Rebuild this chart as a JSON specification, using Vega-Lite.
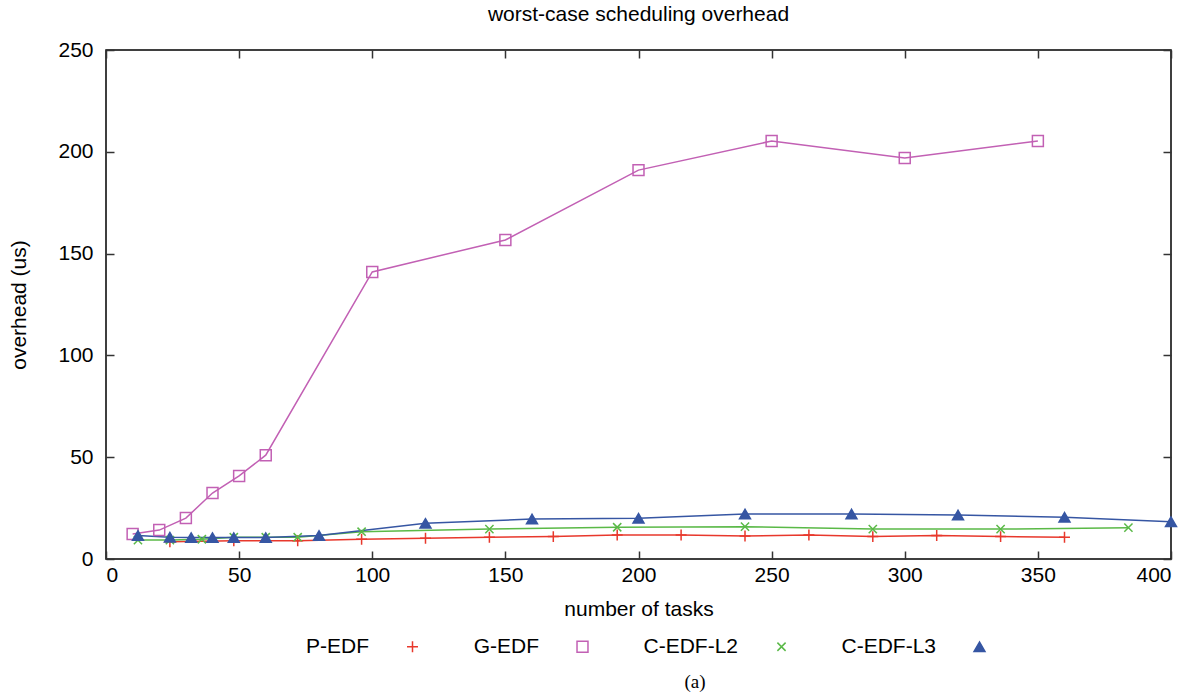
{
  "$schema": "https://vega.github.io/schema/vega-lite/v6.json",
  "width": 1065,
  "height": 509,
  "padding": {"left": 8, "top": 4, "right": 10, "bottom": 0},
  "background": "white",
  "title": {"text": "worst-case scheduling overhead", "font": "Liberation Sans", "fontSize": 21, "fontWeight": "normal", "color": "black", "offset": 14},
  "config": {
    "view": {"stroke": "black", "strokeWidth": 1.5},
    "axis": {"grid": false, "labelFont": "Liberation Sans", "labelFontSize": 21, "labelColor": "black", "titleFont": "Liberation Sans", "titleFontSize": 21, "titleFontWeight": "normal", "titleColor": "black", "domain": false, "tickColor": "#333", "tickWidth": 1.5, "tickSize": -8, "labelPadding": 10},
    "legend": {"labelFont": "Liberation Sans", "labelFontSize": 21, "labelColor": "black"}
  },
  "resolve": {"axis": {"x": "independent", "y": "independent"}},
  "data": {"values": [
    {"series": "P-EDF", "tasks": 24, "overhead": 8.5},
    {"series": "P-EDF", "tasks": 48, "overhead": 9.0},
    {"series": "P-EDF", "tasks": 72, "overhead": 9.0},
    {"series": "P-EDF", "tasks": 96, "overhead": 9.7},
    {"series": "P-EDF", "tasks": 120, "overhead": 10.2},
    {"series": "P-EDF", "tasks": 144, "overhead": 10.7},
    {"series": "P-EDF", "tasks": 168, "overhead": 11.0},
    {"series": "P-EDF", "tasks": 192, "overhead": 11.8},
    {"series": "P-EDF", "tasks": 216, "overhead": 11.8},
    {"series": "P-EDF", "tasks": 240, "overhead": 11.3},
    {"series": "P-EDF", "tasks": 264, "overhead": 11.8},
    {"series": "P-EDF", "tasks": 288, "overhead": 11.0},
    {"series": "P-EDF", "tasks": 312, "overhead": 11.5},
    {"series": "P-EDF", "tasks": 336, "overhead": 11.0},
    {"series": "P-EDF", "tasks": 360, "overhead": 10.7},
    {"series": "G-EDF", "tasks": 10, "overhead": 12.3},
    {"series": "G-EDF", "tasks": 20, "overhead": 14.2},
    {"series": "G-EDF", "tasks": 30, "overhead": 20.1},
    {"series": "G-EDF", "tasks": 40, "overhead": 32.4},
    {"series": "G-EDF", "tasks": 50, "overhead": 40.8},
    {"series": "G-EDF", "tasks": 60, "overhead": 51.0},
    {"series": "G-EDF", "tasks": 100, "overhead": 141.0},
    {"series": "G-EDF", "tasks": 150, "overhead": 156.7},
    {"series": "G-EDF", "tasks": 200, "overhead": 191.0},
    {"series": "G-EDF", "tasks": 250, "overhead": 205.3},
    {"series": "G-EDF", "tasks": 300, "overhead": 197.0},
    {"series": "G-EDF", "tasks": 350, "overhead": 205.3},
    {"series": "C-EDF-L2", "tasks": 12, "overhead": 9.3},
    {"series": "C-EDF-L2", "tasks": 24, "overhead": 9.3},
    {"series": "C-EDF-L2", "tasks": 36, "overhead": 9.7},
    {"series": "C-EDF-L2", "tasks": 48, "overhead": 10.7},
    {"series": "C-EDF-L2", "tasks": 60, "overhead": 10.7},
    {"series": "C-EDF-L2", "tasks": 72, "overhead": 10.7},
    {"series": "C-EDF-L2", "tasks": 96, "overhead": 13.4},
    {"series": "C-EDF-L2", "tasks": 144, "overhead": 14.7},
    {"series": "C-EDF-L2", "tasks": 192, "overhead": 15.6},
    {"series": "C-EDF-L2", "tasks": 240, "overhead": 15.9},
    {"series": "C-EDF-L2", "tasks": 288, "overhead": 14.7},
    {"series": "C-EDF-L2", "tasks": 336, "overhead": 14.7},
    {"series": "C-EDF-L2", "tasks": 384, "overhead": 15.4},
    {"series": "C-EDF-L3", "tasks": 12, "overhead": 11.5},
    {"series": "C-EDF-L3", "tasks": 24, "overhead": 10.7},
    {"series": "C-EDF-L3", "tasks": 32, "overhead": 10.5},
    {"series": "C-EDF-L3", "tasks": 40, "overhead": 10.5},
    {"series": "C-EDF-L3", "tasks": 48, "overhead": 10.5},
    {"series": "C-EDF-L3", "tasks": 60, "overhead": 10.5},
    {"series": "C-EDF-L3", "tasks": 80, "overhead": 11.5},
    {"series": "C-EDF-L3", "tasks": 120, "overhead": 17.5},
    {"series": "C-EDF-L3", "tasks": 160, "overhead": 19.6},
    {"series": "C-EDF-L3", "tasks": 200, "overhead": 20.0},
    {"series": "C-EDF-L3", "tasks": 240, "overhead": 22.1},
    {"series": "C-EDF-L3", "tasks": 280, "overhead": 22.1},
    {"series": "C-EDF-L3", "tasks": 320, "overhead": 21.6},
    {"series": "C-EDF-L3", "tasks": 360, "overhead": 20.5},
    {"series": "C-EDF-L3", "tasks": 400, "overhead": 18.3}
  ]},
  "layer": [
    {
      "mark": {"type": "line", "strokeWidth": 1.5},
      "encoding": {
        "x": {"field": "tasks", "type": "quantitative", "scale": {"domain": [0, 400], "nice": false}, "axis": {"orient": "bottom", "title": "number of tasks", "values": [0, 50, 100, 150, 200, 250, 300, 350, 400], "titlePadding": 13, "labelPadding": 13}},
        "y": {"field": "overhead", "type": "quantitative", "scale": {"domain": [0, 250], "nice": false}, "axis": {"orient": "left", "title": "overhead (us)", "values": [0, 50, 100, 150, 200, 250], "titlePadding": 28, "labelPadding": 21}},
        "color": {"field": "series", "type": "nominal",
          "scale": {"domain": ["P-EDF", "G-EDF", "C-EDF-L2", "C-EDF-L3"], "range": ["#e8382c", "#c260b4", "#5ab947", "#3656a3"]},
          "legend": {"title": "(a)", "orient": "none", "legendX": 296, "legendY": 586, "direction": "horizontal", "titleOrient": "bottom", "titleAnchor": "middle", "titleFont": "Liberation Serif", "titleFontSize": 19, "titleFontWeight": "normal", "titleColor": "black", "titlePadding": 16, "symbolSize": 120, "symbolStrokeWidth": 1.5, "columnPadding": 52, "labelOffset": -54, "labelAlign": "right"}
        },
        "detail": {"field": "series"}
      }
    },
    {
      "mark": {"type": "point", "filled": false, "strokeWidth": 1.5, "opacity": 1},
      "encoding": {
        "x": {"field": "tasks", "type": "quantitative", "axis": null},
        "y": {"field": "overhead", "type": "quantitative", "axis": null},
        "color": {"field": "series", "type": "nominal", "legend": null},
        "shape": {"field": "series", "type": "nominal", "legend": null,
          "scale": {"domain": ["P-EDF", "G-EDF", "C-EDF-L2", "C-EDF-L3"], "range": ["M-1,0L1,0M0,-1L0,1", "square", "M-0.75,-0.75L0.75,0.75M-0.75,0.75L0.75,-0.75", "triangle-up"]}},
        "fill": {"field": "series", "type": "nominal", "legend": null,
          "scale": {"domain": ["P-EDF", "G-EDF", "C-EDF-L2", "C-EDF-L3"], "range": ["transparent", "transparent", "transparent", "#3656a3"]}},
        "size": {"value": 120}
      }
    },
    {
      "mark": {"type": "point", "opacity": 0},
      "encoding": {
        "x": {"field": "tasks", "type": "quantitative", "axis": {"orient": "top", "labels": false, "title": null, "values": [0, 50, 100, 150, 200, 250, 300, 350, 400]}},
        "y": {"field": "overhead", "type": "quantitative", "axis": {"orient": "right", "labels": false, "title": null, "values": [0, 50, 100, 150, 200, 250]}}
      }
    }
  ]
}
